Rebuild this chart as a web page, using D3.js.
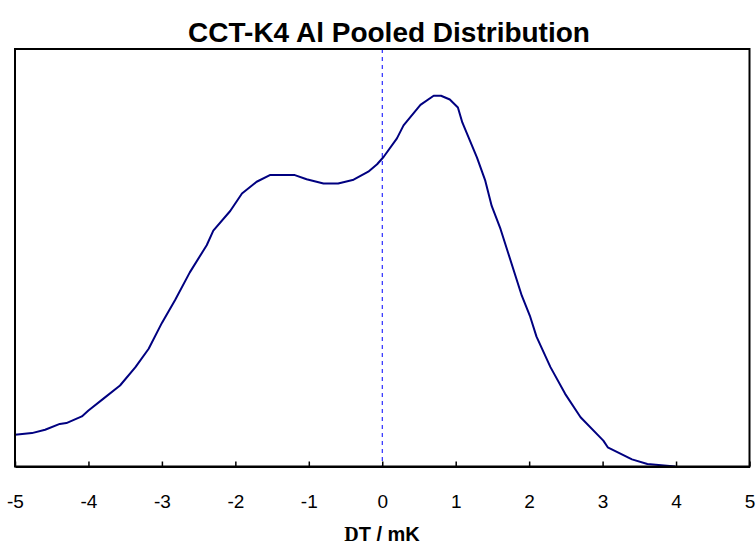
<!DOCTYPE html>
<html>
<head>
<meta charset="utf-8">
<script src="https://cdn.jsdelivr.net/npm/d3@7"></script>
<style>
  body { margin: 0; background: #fff; }
  svg { display: block; font-family: "Liberation Sans", Arial, sans-serif; }
</style>
</head>
<body>
<svg id="svg" width="756" height="545"></svg>
<script>
// pooled distribution (y is relative, peak ~ 89)
var dtValues = [-5.00, -4.77, -4.59, -4.39, -4.30, -4.09, -4.00, -3.80, -3.57, -3.36,
  -3.18, -3.00, -2.82, -2.62, -2.39, -2.30, -2.07, -1.91, -1.71, -1.53,
  -1.19, -1.03, -0.80, -0.60, -0.39, -0.19, -0.07, 0.02, 0.20, 0.29,
  0.52, 0.70, 0.80, 0.92, 1.03, 1.09, 1.29, 1.40, 1.49, 1.61,
  1.90, 2.01, 2.10, 2.29, 2.49, 2.70, 3.01, 3.07, 3.40, 3.61, 3.99];
var density = [7.6, 8.0, 8.8, 10.2, 10.4, 12.0, 13.4, 16.2, 19.4, 23.8,
  28.2, 34.4, 39.9, 46.5, 53.0, 56.5, 61.2, 65.4, 68.2, 69.8,
  69.8, 68.8, 67.8, 67.8, 68.7, 70.6, 72.4, 74.2, 78.6, 81.7,
  86.6, 88.8, 88.8, 87.9, 86.0, 82.4, 74.0, 68.6, 62.4, 56.9,
  40.9, 36.1, 31.1, 23.8, 17.4, 11.8, 6.2, 4.6, 1.7, 0.6, 0];
var xTicks = [-5, -4, -3, -2, -1, 0, 1, 2, 3, 4, 5];
var title = "CCT-K4 Al Pooled Distribution";

var svg = d3.select("#svg");
var padding = {top: 49, right: 6.5, bottom: 78.5, left: 15};
var W = 756 - padding.left - padding.right;
var H = 545 - padding.top - padding.bottom;

var xScale = d3.scaleLinear().domain([-5, 5]).range([0, W]);
var yScale = d3.scaleLinear().domain([0, 100]).range([H, 0]);

var g = svg.append("g")
  .attr("transform", "translate(" + padding.left + "," + padding.top + ")");

// zero line
g.append("line")
  .attr("x1", xScale(0)).attr("x2", xScale(0))
  .attr("y1", 0).attr("y2", H)
  .attr("stroke", "#0000ff")
  .attr("stroke-width", 1)
  .attr("stroke-dasharray", "4,4");

var pts = dtValues.map((d, i) => [d, density[i]]);
var line = d3.line()
  .x(d => xScale(d[0]))
  .y(d => yScale(d[1]));

g.append("path")
  .datum(pts)
  .attr("d", line)
  .attr("fill", "none")
  .attr("stroke", "#000080")
  .attr("stroke-width", 2)
  .attr("stroke-linejoin", "round");

// frame
g.append("rect")
  .attr("x", 0).attr("y", 0)
  .attr("width", W).attr("height", H)
  .attr("fill", "none")
  .attr("stroke", "#000")
  .attr("stroke-width", 2);

// x-axis, ticks point inward
var xAxis = g.append("g")
  .attr("transform", "translate(0," + H + ")")
  .call(d3.axisBottom(xScale).tickValues(xTicks).tickSizeInner(-5).tickSizeOuter(0).tickPadding(28).tickFormat(d3.format("d")));
xAxis.select(".domain").attr("stroke-width", 2);
xAxis.selectAll(".tick line").attr("stroke-width", 1.5);
xAxis.selectAll(".tick text")
  .attr("font-size", 19)
  .attr("font-family", "Liberation Sans, Arial, sans-serif")
  .attr("fill", "#000")
  .text(d => d < 0 ? "-" + Math.abs(d) : d);

svg.append("text")
  .attr("x", 389).attr("y", 42)
  .attr("text-anchor", "middle")
  .attr("font-size", 28)
  .attr("font-weight", "bold")
  .text(title);

var lab = svg.append("text")
  .attr("x", 382).attr("y", 541)
  .attr("text-anchor", "middle")
  .attr("font-size", 20)
  .attr("font-weight", "bold");
lab.append("tspan").attr("font-family", "Liberation Serif, serif").text("D");
lab.append("tspan").text("T / mK");
</script>
</body>
</html>
